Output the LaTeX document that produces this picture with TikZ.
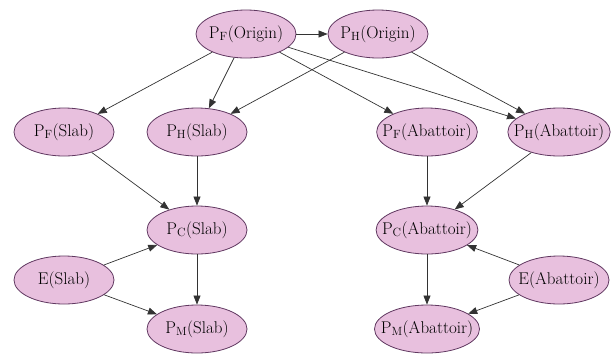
\documentclass[tikz,border=0pt]{standalone}
\usetikzlibrary{arrows.meta, shapes.geometric}
\definecolor{nodepink}{RGB}{232,192,222}
\definecolor{nodeline}{RGB}{96,56,96}
\tikzset{
    var/.style={ellipse, draw=nodeline, fill=nodepink, line width=0.8pt,
        minimum width=100pt, minimum height=48pt, inner xsep=-9pt, inner ysep=0pt,
        font=\rmfamily\fontsize{17}{20}\selectfont},
    link/.style={-{Triangle[length=9pt,width=7pt]}, draw=black!80, line width=0.7pt}
}

\begin{document}
\begin{tikzpicture}[x=1pt, y=-1pt]
    \useasboundingbox (0,0) rectangle (612,354);

    % top row
    \node[var] (pfo) at (246,34) {P\textsubscript{F}(Origin)};
    \node[var] (pho) at (378,34) {P\textsubscript{H}(Origin)};

    % second row
    \node[var] (pfs) at (64,132) {P\textsubscript{F}(Slab)};
    \node[var] (phs) at (197,132) {P\textsubscript{H}(Slab)};
    \node[var] (pfa) at (427,132) {P\textsubscript{F}(Abattoir)};
    \node[var] (pha) at (559,132) {P\textsubscript{H}(Abattoir)};

    % consumption, exposure and market
    \node[var] (pcs) at (197,230) {P\textsubscript{C}(Slab)};
    \node[var] (pca) at (427,230) {P\textsubscript{C}(Abattoir)};
    \node[var] (es) at (64,280) {E(Slab)};
    \node[var] (ea) at (559,280) {E(Abattoir)};
    \node[var] (pms) at (197,329) {P\textsubscript{M}(Slab)};
    \node[var] (pma) at (427,329) {P\textsubscript{M}(Abattoir)};

    \draw[link] (pfo) -- (pho);
    \draw[link] (pfo) -- (pfs);
    \draw[link] (pfo) -- (phs);
    \draw[link] (pfo) -- (pfa);
    \draw[link] (pfo) -- (pha);
    \draw[link] (pho) -- (phs);
    \draw[link] (pho) -- (pha);

    \draw[link] (pfs) -- (pcs);
    \draw[link] (phs) -- (pcs);
    \draw[link] (pfa) -- (pca);
    \draw[link] (pha) -- (pca);

    \draw[link] (pcs) -- (pms);
    \draw[link] (es) -- (pcs);
    \draw[link] (es) -- (pms);
    \draw[link] (pca) -- (pma);
    \draw[link] (ea) -- (pca);
    \draw[link] (ea) -- (pma);
\end{tikzpicture}
\end{document}
